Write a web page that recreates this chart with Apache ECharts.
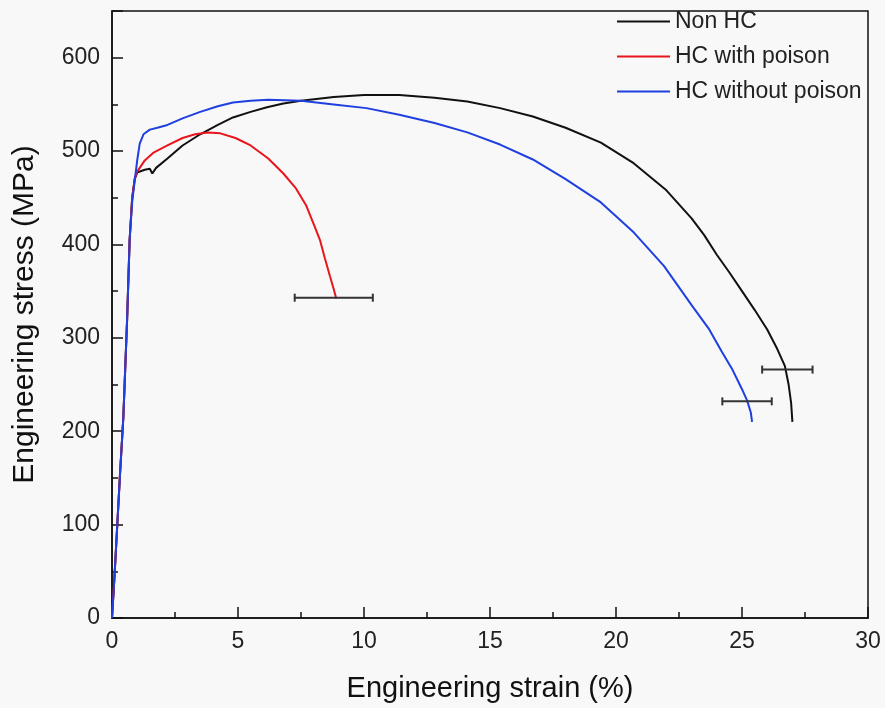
<!DOCTYPE html>
<html lang="en">
<head>
    <meta charset="utf-8">
    <script src="https://cdn.jsdelivr.net/npm/echarts@6/dist/echarts.min.js"></script>
    <style>
        html, body { margin:0; padding:0; background:#f8f8f8; }
        #main { width:885px; height:708px; }
    </style>
</head>
<body>
<div id="main"></div>
<script type="text/javascript">
    // strain (%) / stress (MPa) curves
    var nonHC = [[0,0],[0.1,45],[0.2,95],[0.32,155],[0.45,215],[0.6,320],[0.7,405],[0.8,450],[0.9,470],[1.0,477],
        [1.3,480],[1.5,481],[1.6,476],[1.75,482],[2.2,492],[2.8,506],[3.5,518],[4.2,528],[4.8,536],[5.5,542],
        [6.15,547],[6.8,551],[7.5,554],[8.8,558],[10,560],[11.4,560],[12.8,557],[14.1,553],[15.4,546],[16.7,537],
        [18,525],[19.4,509],[20.7,487],[22,458],[23,428],[23.5,410],[24,389],[24.5,370],[25,350],[25.5,330],
        [26,309],[26.4,288],[26.7,270],[26.85,250],[26.95,230],[27.0,210]];
    var withPoison = [[0,0],[0.1,45],[0.2,95],[0.32,155],[0.45,215],[0.6,320],[0.7,405],[0.8,450],[0.9,470],
        [1.0,478],[1.3,490],[1.63,498],[2.2,506],[2.8,514],[3.3,518],[3.8,520],[4.3,519],[4.9,514],[5.5,506],
        [6.2,492],[6.8,476],[7.3,460],[7.7,442],[8.0,422],[8.25,405],[8.45,385],[8.65,366],[8.8,352],[8.9,342]];
    var withoutPoison = [[0,0],[0.1,45],[0.2,95],[0.32,155],[0.45,215],[0.6,320],[0.7,405],[0.8,445],[0.9,468],
        [1.0,490],[1.1,508],[1.25,518],[1.5,523],[1.8,525],[2.2,528],[2.8,535],[3.5,542],[4.2,548],[4.8,552],
        [5.5,554],[6.2,555],[7.5,554],[8.8,550],[10.1,546],[11.4,539],[12.8,530],[14.1,520],[15.4,507],[16.7,491],
        [18,470],[19.4,445],[20.7,413],[21.9,377],[23,335],[23.7,309],[24.2,285],[24.6,267],[25.0,245],
        [25.2,233],[25.35,220],[25.4,210]];
    // error bars: [centre strain, stress, half width]
    var errBars = [[8.8,343,1.55],[26.8,266,1.0],[25.2,232,0.98]];

    var seriesNames = ['Non HC','HC with poison','HC without poison'];
    var seriesColors = ['#111111','#e8161c','#1f3fe0'];
    var font = 'Liberation Sans, Arial, sans-serif';

    var myChart = echarts.init(document.getElementById('main'));
    myChart.setOption({
        backgroundColor:'#f8f8f8',
        animation:false,
        grid:{ left:112, right:17, top:11, bottom:88, show:true, borderColor:'#111', borderWidth:1.5, backgroundColor:'transparent' },
        legend:{
            orient:'vertical', left:612, top:5,
            itemWidth:53, itemHeight:22, itemGap:12,
            icon:'path://M0,10 L53,10 L53,12 L0,12 Z',
            textStyle:{ fontFamily:font, fontSize:23, color:'#222' },
            data:seriesNames
        },
        xAxis:{
            type:'value', min:0, max:30, interval:5,
            name:'Engineering strain (%)', nameLocation:'middle', nameGap:56,
            nameTextStyle:{ fontFamily:font, fontSize:29, color:'#111' },
            axisLine:{ lineStyle:{ color:'#111', width:1.5 } },
            axisTick:{ inside:true, length:11, lineStyle:{ color:'#111', width:1.5 } },
            minorTick:{ show:true, splitNumber:2, length:6, lineStyle:{ color:'#111', width:1.5 } },
            axisLabel:{ fontFamily:font, fontSize:23, color:'#222', margin:12 },
            splitLine:{ show:false }
        },
        yAxis:{
            type:'value', min:0, max:650, interval:100,
            name:'Engineering stress (MPa)', nameLocation:'middle', nameGap:72,
            nameTextStyle:{ fontFamily:font, fontSize:30, color:'#111' },
            axisLine:{ lineStyle:{ color:'#111', width:1.5 } },
            axisTick:{ inside:true, length:11, lineStyle:{ color:'#111', width:1.5 } },
            minorTick:{ show:true, splitNumber:2, length:6, lineStyle:{ color:'#111', width:1.5 } },
            axisLabel:{ fontFamily:font, fontSize:23, color:'#222', margin:12, showMaxLabel:false },
            splitLine:{ show:false }
        },
        series:[
            { name:seriesNames[0], type:'line', data:nonHC, showSymbol:false, color:seriesColors[0], lineStyle:{ width:2 } },
            { name:seriesNames[1], type:'line', data:withPoison, showSymbol:false, color:seriesColors[1], lineStyle:{ width:2 } },
            { name:seriesNames[2], type:'line', data:withoutPoison, showSymbol:false, color:seriesColors[2], lineStyle:{ width:2 } },
            {
                type:'custom', data:errBars, z:5,
                renderItem:function (params, api) {
                    var a = api.coord([api.value(0) - api.value(2), api.value(1)]);
                    var b = api.coord([api.value(0) + api.value(2), api.value(1)]);
                    var st = { stroke:'#333', lineWidth:2 };
                    return { type:'group', children:[
                        { type:'line', shape:{ x1:a[0], y1:a[1], x2:b[0], y2:b[1] }, style:st },
                        { type:'line', shape:{ x1:a[0], y1:a[1]-4, x2:a[0], y2:a[1]+4 }, style:st },
                        { type:'line', shape:{ x1:b[0], y1:b[1]-4, x2:b[0], y2:b[1]+4 }, style:st }
                    ]};
                }
            }
        ]
    });
</script>
</body>
</html>
